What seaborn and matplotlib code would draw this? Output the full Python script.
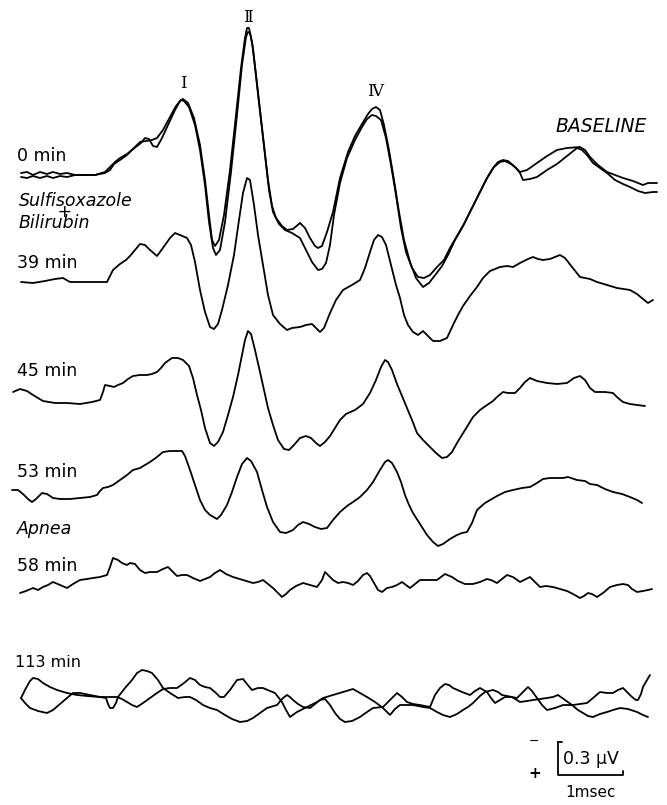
import numpy as np
import pandas as pd
import matplotlib
matplotlib.use('Agg')
import matplotlib.pyplot as plt
import seaborn as sns

# Digitized averaged responses.
# t = counts after sweep start, v = counts above the trace's own baseline (up = vertex negative)
MS = 65.0    # counts per msec (1 msec calibration bar)
UV = 110.0   # counts per microvolt (0.3 uV bar = 33 counts)
SCALE_MS = 1.0
SCALE_UV = 0.3

# 0 min, baseline (two superimposed runs)
t0a = [1, 7, 13, 20, 27, 33, 40, 47, 55, 62, 75, 85, 90, 94, 100, 107, 112, 117, 121, 125,
       129, 133, 137, 142, 148, 155, 160, 163, 168, 174, 180, 185, 189, 192, 195, 199, 204, 210, 216, 221,
       225, 227, 229, 232, 236, 240, 244, 248, 252, 256, 262, 267, 273, 280, 285, 290, 295, 298, 302, 307,
       313, 320, 328, 335, 342, 348, 352, 356, 360, 364, 369, 374, 379, 384, 390, 396, 403, 409, 416, 422,
       428, 435, 442, 450, 458, 466, 473, 478, 483, 488, 494, 500, 507, 517, 527, 537, 547, 560, 565, 570,
       578, 587, 595, 603, 613, 623, 628, 637]
v0a = [1, 2, -1, 2, 0, 2, 0, 1, -1, -1, -1, 1, 4, 10, 14, 19, 24, 28, 31, 36,
       35, 28, 27, 36, 49, 64, 73, 75, 71, 56, 29, -6, -41, -66, -72, -66, -41, 4, 59, 106,
       136, 146, 146, 132, 99, 64, 29, -6, -32, -44, -52, -56, -55, -49, -54, -64, -72, -74, -72, -58,
       -38, -4, 22, 38, 50, 60, 65, 67, 64, 49, 24, -6, -38, -66, -88, -104, -113, -109, -100, -92,
       -81, -66, -54, -38, -22, -6, 6, 12, 14, 13, 8, 2, 4, 11, 18, 24, 26, 27, 24, 17,
       9, 2, -1, -4, -7, -11, -9, -9]
t0b = [1, 7, 13, 20, 27, 33, 40, 47, 55, 62, 75, 85, 90, 95, 100, 107, 113, 120, 126, 132,
       137, 143, 150, 156, 161, 164, 169, 175, 180, 185, 189, 193, 196, 200, 205, 211, 217, 222, 226, 228,
       230, 233, 237, 241, 245, 249, 253, 259, 265, 272, 280, 286, 292, 298, 302, 306, 310, 314, 320, 327,
       335, 342, 347, 352, 356, 361, 366, 371, 376, 381, 386, 392, 398, 404, 410, 417, 424, 430, 437, 444,
       452, 460, 467, 474, 480, 485, 491, 496, 500, 503, 510, 517, 527, 537, 547, 557, 562, 567, 573, 580,
       587, 595, 603, 610, 618, 625, 633, 637]
v0b = [-3, -4, -2, -4, -2, -4, -2, -3, -1, -1, -1, 2, 7, 12, 16, 20, 25, 32, 33, 34,
       36, 44, 57, 68, 74, 73, 67, 49, 24, -11, -48, -74, -81, -76, -48, 2, 59, 109, 137, 142,
       141, 126, 89, 54, 19, -16, -38, -50, -56, -59, -64, -76, -88, -96, -95, -89, -71, -41, -9, 16,
       34, 47, 55, 59, 58, 54, 36, 9, -21, -54, -78, -94, -103, -104, -101, -93, -86, -74, -62, -50,
       -34, -18, -4, 7, 12, 13, 10, 6, 1, -6, -5, -3, 4, 10, 18, 26, 24, 19, 11, 6,
       1, -6, -10, -13, -17, -19, -18, -18]

# 39 min
t39 = [1, 13, 25, 35, 43, 50, 65, 87, 90, 93, 100, 106, 110, 115, 120, 125, 130, 137, 140, 145,
       150, 155, 160, 167, 171, 175, 180, 185, 190, 194, 198, 202, 208, 214, 219, 223, 227, 230, 234, 238,
       243, 248, 253, 260, 267, 272, 280, 286, 292, 296, 300, 304, 310, 316, 323, 332, 340, 345, 350, 354,
       358, 362, 366, 371, 376, 380, 384, 388, 393, 398, 403, 408, 413, 420, 427, 433, 438, 443, 450, 457,
       463, 470, 480, 487, 493, 500, 508, 513, 518, 523, 530, 540, 545, 552, 560, 570, 577, 587, 597, 610,
       617, 623, 628, 633]
v39 = [0, -1, 1, 3, 4, 0, 0, 0, 6, 12, 18, 22, 26, 32, 38, 37, 32, 26, 30, 37,
       44, 49, 47, 44, 37, 20, -8, -30, -45, -47, -42, -28, -3, 27, 62, 89, 104, 102, 77, 47,
       17, -13, -33, -42, -48, -46, -45, -43, -42, -46, -50, -46, -31, -18, -8, -3, 2, 14, 30, 42,
       47, 45, 37, 17, -3, -16, -33, -43, -50, -53, -49, -54, -59, -59, -56, -43, -33, -24, -14, -5,
       4, 11, 15, 16, 15, 19, 23, 25, 23, 22, 23, 27, 24, 15, 5, 3, 0, -3, -6, -8,
       -12, -17, -21, -18]

# 45 min
t45 = [-7, 0, 7, 13, 23, 35, 47, 60, 72, 80, 83, 85, 90, 94, 98, 103, 108, 113, 120, 127,
       132, 137, 141, 145, 152, 158, 163, 169, 173, 177, 181, 185, 190, 194, 198, 203, 208, 213, 218, 222,
       225, 228, 231, 235, 240, 244, 248, 253, 258, 264, 269, 274, 280, 286, 291, 296, 300, 305, 310, 315,
       320, 326, 335, 343, 350, 356, 361, 365, 368, 372, 377, 382, 387, 392, 397, 403, 410, 416, 422, 427,
       432, 437, 445, 453, 460, 467, 473, 477, 483, 488, 495, 500, 505, 510, 517, 527, 537, 547, 554, 560,
       565, 570, 575, 585, 593, 598, 603, 610, 617, 625]
v45 = [-2, 1, -1, -5, -11, -13, -13, -14, -12, -10, -2, 5, 4, 3, 5, 7, 11, 14, 15, 15,
       16, 18, 22, 27, 32, 32, 30, 24, 12, -5, -20, -38, -53, -56, -52, -42, -25, -7, 15, 35,
       50, 59, 56, 40, 18, 0, -18, -35, -50, -59, -60, -55, -48, -46, -48, -53, -56, -52, -46, -38,
       -30, -24, -20, -14, -3, 10, 23, 30, 28, 20, 6, -6, -18, -30, -43, -50, -57, -63, -68, -67,
       -62, -53, -40, -27, -20, -15, -11, -7, -2, -3, -3, 2, 8, 12, 9, 7, 6, 7, 12, 14,
       10, 2, -2, -2, -3, -8, -12, -14, -15, -16]

# 53 min
t53 = [-8, -2, 3, 8, 12, 16, 22, 27, 33, 40, 50, 60, 70, 77, 80, 83, 88, 93, 100, 107,
       113, 120, 130, 137, 143, 150, 162, 165, 170, 175, 180, 185, 190, 197, 201, 207, 212, 217, 222, 227,
       231, 237, 242, 247, 253, 260, 266, 273, 278, 283, 289, 295, 301, 307, 313, 320, 327, 333, 340, 347,
       353, 360, 365, 368, 372, 377, 381, 385, 389, 393, 400, 407, 413, 418, 423, 430, 437, 442, 447, 452,
       457, 465, 477, 485, 493, 502, 510, 517, 523, 530, 543, 548, 557, 565, 570, 577, 585, 593, 602, 610,
       617, 622]
v53 = [5, 5, 1, -4, -7, -4, 2, 1, -3, -4, -4, -3, -2, 0, 4, 7, 8, 10, 15, 20,
       25, 27, 33, 38, 43, 44, 44, 39, 25, 10, -5, -15, -20, -24, -20, -10, 3, 18, 31, 37,
       34, 23, 5, -12, -27, -37, -38, -35, -30, -27, -29, -32, -34, -33, -25, -17, -11, -7, -2, 5,
       13, 25, 33, 35, 32, 23, 13, 0, -10, -18, -29, -40, -47, -51, -49, -44, -40, -38, -37, -28,
       -15, -8, -1, 3, 5, 7, 8, 12, 16, 17, 17, 18, 15, 14, 11, 10, 6, 3, 1, -2,
       -5, -8]

# 58 min (apnea)
t58 = [0, 6, 13, 18, 23, 28, 33, 40, 47, 53, 60, 67, 73, 80, 87, 90, 93, 98, 102, 107,
       110, 115, 120, 125, 130, 137, 143, 148, 152, 157, 162, 167, 173, 180, 185, 190, 195, 200, 206, 213,
       223, 233, 238, 243, 248, 253, 258, 262, 266, 270, 276, 283, 290, 297, 302, 305, 308, 313, 318, 323,
       328, 333, 338, 343, 347, 350, 354, 358, 362, 367, 372, 377, 382, 386, 390, 395, 400, 410, 417, 425,
       432, 438, 445, 453, 460, 467, 471, 477, 482, 487, 493, 500, 506, 510, 515, 520, 526, 533, 540, 547,
       553, 560, 564, 568, 572, 577, 583, 590, 597, 603, 608, 612, 617, 623, 628, 632]
v58 = [-5, -3, 0, -2, 1, 3, 6, 3, 0, 4, 8, 9, 10, 11, 13, 21, 30, 28, 25, 23,
       25, 24, 18, 15, 16, 16, 19, 21, 17, 12, 13, 13, 10, 7, 9, 11, 15, 18, 14, 11,
       8, 5, 6, 8, 4, 0, -5, -9, -6, -2, 2, 5, 3, 1, 8, 16, 13, 8, 5, 6,
       5, 3, 7, 13, 15, 12, 5, -2, -4, 0, 1, 3, 6, 3, 0, 4, 8, 8, 8, 14,
       11, 7, 4, 4, 6, 9, 8, 5, 9, 13, 11, 6, 9, 11, 6, 1, 2, 1, -1, -3,
       -6, -10, -8, -5, -6, -9, -5, 1, 3, 4, 3, -1, -4, -3, -2, -1]

# 113 min (two superimposed runs)
t113a = [1, 6, 10, 13, 18, 23, 30, 37, 47, 57, 67, 80, 86, 88, 90, 93, 96, 98, 105, 112,
         117, 122, 127, 132, 138, 143, 150, 158, 165, 170, 176, 183, 190, 197, 205, 212, 220, 227, 233, 240,
         247, 257, 263, 267, 270, 273, 278, 283, 290, 295, 300, 305, 310, 315, 320, 325, 332, 340, 347, 353,
         363, 370, 377, 382, 387, 393, 400, 410, 415, 420, 425, 429, 433, 442, 450, 455, 460, 467, 471, 475,
         480, 485, 491, 497, 503, 508, 512, 517, 522, 527, 535, 543, 553, 560, 567, 573, 580, 587, 593, 598,
         603, 608, 612, 616, 618, 621, 623, 627, 630]
v113a = [0, 10, 17, 20, 19, 15, 11, 8, 5, 3, 2, 1, 0, -6, -10, -10, -5, 1, 10, 18,
         25, 28, 27, 25, 18, 10, 5, 0, 1, 1, -2, -7, -10, -12, -17, -21, -24, -23, -20, -15,
         -10, -7, 0, 3, 1, -2, -6, -9, -10, -6, -2, -1, -7, -15, -21, -24, -23, -19, -14, -10,
         -9, -2, 5, 1, -4, -6, -7, -9, 3, 10, 14, 13, 10, 6, 3, 7, 10, 6, 0, -5,
         -2, 1, 1, 0, 6, 11, 7, 0, -7, -12, -10, -7, -7, -6, -5, 0, 6, 5, 5, 8,
         10, 5, 1, -2, -2, 4, 11, 18, 23]
t113b = [1, 5, 10, 18, 27, 33, 40, 47, 53, 60, 70, 80, 90, 97, 102, 107, 112, 117, 123, 130,
         137, 143, 150, 157, 164, 170, 175, 180, 185, 190, 196, 200, 204, 210, 217, 223, 227, 232, 238, 243,
         250, 255, 262, 266, 270, 277, 287, 297, 303, 313, 323, 333, 340, 347, 355, 363, 370, 375, 380, 393,
         403, 410, 417, 423, 430, 437, 443, 448, 453, 460, 465, 473, 478, 482, 492, 500, 507, 513, 520, 527,
         533, 538, 545, 552, 558, 563, 568, 573, 580, 587, 593, 600, 608, 617, 623, 628]
v113b = [0, -5, -10, -13, -15, -12, -6, 0, 5, 5, 3, 1, 1, 1, -1, -4, -7, -9, -5, 0,
         5, 9, 10, 10, 15, 20, 18, 13, 11, 10, 5, 1, 1, 8, 18, 19, 14, 8, 10, 10,
         7, 5, -4, -12, -19, -14, -9, -4, 0, 3, 6, 9, 5, 1, -4, -10, -17, -11, -7, -7,
         -9, -10, -14, -17, -19, -16, -12, -9, -5, 2, 6, 8, 6, 3, 1, -4, -3, -2, -1, 0,
         1, 3, -2, -7, -12, -15, -18, -19, -16, -14, -12, -10, -11, -14, -17, -19]

sweeps = {
    '0 min a': (t0a, v0a), '0 min b': (t0b, v0b),
    '39 min': (t39, v39), '45 min': (t45, v45), '53 min': (t53, v53),
    '58 min': (t58, v58), '113 min a': (t113a, v113a), '113 min b': (t113b, v113b),
}

# ---- layout (page units of the original figure: 667 x 805) ----
W, H = 667, 805
X0 = 20  # sweep start
row_base = {'0 min a': 174, '0 min b': 174, '39 min': 282, '45 min': 390, '53 min': 495,
            '58 min': 588, '113 min a': 698, '113 min b': 698}


def at(xp, yp):
    return (xp - X0) / MS, -yp / UV


frames = []
for name, (t, v) in sweeps.items():
    frames.append(pd.DataFrame({'ms': np.array(t) / MS,
                                'y': np.array(v) / UV - row_base[name] / UV,
                                'trace': name}))
df = pd.concat(frames, ignore_index=True)

sns.set_style('white')
fig = plt.figure(figsize=(W / 100, H / 100), dpi=100)
ax = fig.add_axes([0, 0, 1, 1])
sns.lineplot(data=df, x='ms', y='y', units='trace', estimator=None, sort=False,
             color='black', lw=1.3, ax=ax)
ax.set_xlim(-X0 / MS, (W - X0) / MS)
ax.set_ylim(-H / UV, 0)
ax.axis('off')

sans = ['DejaVu Sans']
lab = dict(fontsize=12.5, family=sans, va='center', ha='left', color='black')
ital = dict(fontsize=12.5, family=sans, style='italic', va='center', ha='left', color='black')
for txt, xp, yp in [('0 min', 17, 156), ('39 min', 17, 263), ('45 min', 17, 371),
                    ('53 min', 17, 472), ('58 min', 17, 566)]:
    ax.text(*at(xp, yp), txt, **lab)
ax.text(*at(15, 662), '113 min', **dict(lab, fontsize=11.5))
ax.text(*at(17, 529), 'Apnea', **ital)
ax.text(*at(555, 126), 'BASELINE', **dict(ital, fontsize=13.5))
# drug label: two lines joined by a small plus
ax.text(*at(19, 212), 'Sulfisoxazole\n       +\nBilirubin', linespacing=0.5,
        multialignment='left', **ital)

serif = ['DejaVu Serif', 'DejaVu Sans']
for txt, xp, yp in [('I', 183, 84), ('\u2161', 248, 17), ('\u2163', 375, 91)]:
    ax.text(*at(xp, yp), txt, fontsize=12, family=serif, ha='center', va='center', color='black')

# calibration bar
bx, by = at(558, 775)
ax.plot([bx, bx, bx + SCALE_MS, bx + SCALE_MS], [by + SCALE_UV, by, by, by + 0.04],
        color='black', lw=1.3)
ax.plot([bx, bx + 0.06], [by + SCALE_UV, by + SCALE_UV], color='black', lw=1.3)
ax.text(bx + 0.07, by + SCALE_UV / 2, '0.3 \u03bcV', fontsize=12.5, family=sans,
        ha='left', va='center', color='black')
ax.text(bx + SCALE_MS / 2, at(0, 792)[1], '1msec', fontsize=11, family=sans,
        ha='center', va='center', color='black')
ax.text(*at(534, 741), '\u2212', fontsize=9, family=sans, ha='center', va='center', color='black')
ax.text(*at(535, 773), '+', fontsize=11, fontweight='bold', family=sans, ha='center', va='center',
        color='black')

fig.savefig('out.png', dpi=100)
